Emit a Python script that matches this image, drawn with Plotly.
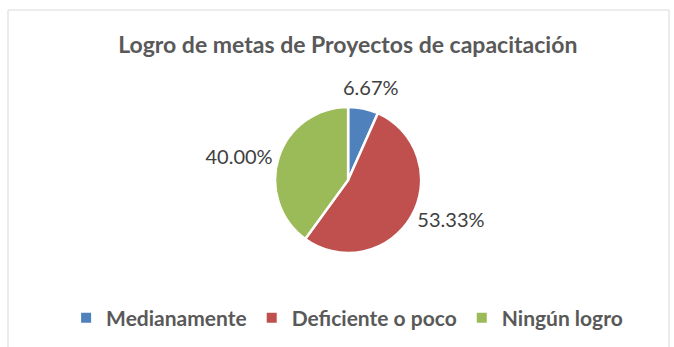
import plotly.graph_objects as go

# Goal achievement of training projects
categories = ["Medianamente", "Deficiente o poco", "Ningún logro"]
shares = [6.67, 53.33, 40.00]
colors = ["#4F81BD", "#C0504D", "#9BBB59"]
labels_text = [f"{v:.2f}%" for v in shares]

W, H = 674, 347
label_font = dict(family="Lato", size=20, color="#404040")

fig = go.Figure(
    go.Pie(
        labels=categories,
        values=shares,
        text=labels_text,
        textinfo="text",
        # the small first slice gets its label placed above the pie
        textposition=["none", "outside", "outside"],
        sort=False,
        direction="clockwise",
        rotation=0,
        marker=dict(colors=colors, line=dict(color="white", width=2.5)),
        textfont=label_font,
        domain=dict(x=[0.2, 0.833], y=[0.271, 0.692]),
        hoverinfo="label+percent",
    )
)

fig.add_annotation(
    text=labels_text[0],
    xref="paper",
    yref="paper",
    x=371 / W,
    y=1 - 87 / H,
    xanchor="center",
    yanchor="middle",
    showarrow=False,
    font=label_font,
)

fig.update_layout(
    width=W,
    height=H,
    margin=dict(l=0, r=0, t=0, b=0, autoexpand=False),
    paper_bgcolor="white",
    plot_bgcolor="white",
    title=dict(
        text="<b>Logro de metas de Proyectos de capacitación</b>",
        x=0.516,
        xanchor="center",
        y=1 - 45 / H,
        yanchor="middle",
        font=dict(family="Lato", size=23, color="#595959"),
    ),
    showlegend=True,
    legend=dict(
        orientation="h",
        x=0.515,
        xanchor="center",
        y=1 - 318 / H,
        yanchor="middle",
        font=dict(family="Lato", size=21, color="#595959", weight="bold"),
        itemsizing="constant",
    ),
    shapes=[
        dict(
            type="rect",
            xref="paper",
            yref="paper",
            x0=8 / W,
            x1=669 / W,
            y0=-0.05,
            y1=1 - 10 / H,
            line=dict(color="#D9D9D9", width=1),
            fillcolor="rgba(0,0,0,0)",
            layer="below",
        )
    ],
)

fig.write_html("out.html")
